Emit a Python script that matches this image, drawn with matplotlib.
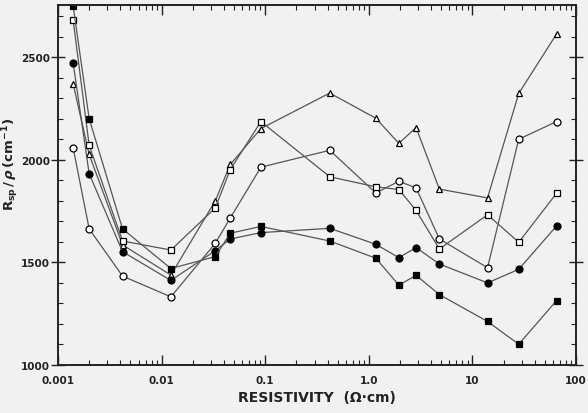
import numpy as np
import matplotlib.pyplot as plt
from matplotlib.ticker import FixedLocator, LogLocator, NullFormatter, MultipleLocator

plt.rcParams['font.family'] = ['DejaVu Sans']

# resistivity (ohm-cm)
rho = [0.0014, 0.002, 0.0042, 0.0123, 0.033, 0.046, 0.091, 0.42, 1.17, 1.95, 2.86, 4.8, 14, 28, 65]

# Rsp/rho (cm^-1) for each sample set
filled_sq = [2750, 2200, 1663, 1470, 1528, 1642, 1675, 1604, 1520, 1389, 1437, 1343, 1212, 1101, 1314]
filled_ci = [2472, 1932, 1552, 1412, 1557, 1614, 1645, 1666, 1588, 1523, 1572, 1492, 1400, 1466, 1678]
open_sq = [2682, 2070, 1604, 1560, 1765, 1952, 2186, 1917, 1868, 1855, 1753, 1565, 1732, 1598, 1837]
open_tri = [2370, 2026, 1585, 1438, 1800, 1977, 2152, 2325, 2202, 2080, 2157, 1857, 1814, 2323, 2613]
open_ci = [2059, 1663, 1433, 1332, 1593, 1716, 1964, 2046, 1838, 1895, 1863, 1614, 1474, 2100, 2186]

bg = '#f1f1f1'
fig = plt.figure(figsize=(5.88, 4.14), dpi=100, facecolor=bg)
ax = fig.add_axes([0.0986, 0.116, 0.881, 0.87], facecolor=bg)

line_kw = dict(color='#555555', lw=0.9, mec='black', mew=0.9)
ax.plot(rho, open_tri, marker='^', ms=4.6, mfc='white', **line_kw)
ax.plot(rho, open_ci, marker='o', ms=5, mfc='white', **line_kw)
ax.plot(rho, open_sq, marker='s', ms=4, mfc='white', **line_kw)
ax.plot(rho, filled_ci, marker='o', ms=5, mfc='black', **line_kw)
ax.plot(rho, filled_sq, marker='s', ms=3.8, mfc='black', **line_kw)

ax.set_xscale('log')
ax.set_xlim(0.001, 100)
ax.set_ylim(1000, 2755)

ax.xaxis.set_major_locator(FixedLocator([0.001, 0.01, 0.1, 1.0, 10, 100]))
ax.set_xticklabels(['0.001', '0.01', '0.1', '1.0', '10', '100'])
ax.xaxis.set_minor_locator(LogLocator(base=10, subs=np.arange(2, 10)))
ax.xaxis.set_minor_formatter(NullFormatter())
ax.set_yticks([1000, 1500, 2000, 2500])
ax.yaxis.set_minor_locator(MultipleLocator(100))

ax.tick_params(which='both', direction='in', top=True, right=True, colors='#222222',
               labelsize=7.5)
ax.tick_params(which='major', length=7, width=1)
ax.tick_params(which='minor', length=3.5, width=0.8)
ax.tick_params(axis='y', which='major', direction='inout', length=10, pad=1)
ax.tick_params(axis='x', pad=7)
for lbl in ax.get_xticklabels() + ax.get_yticklabels():
    lbl.set_fontweight('bold')

for s in ax.spines.values():
    s.set_linewidth(1.4)
    s.set_color('#222222')

ax.set_xlabel('RESISTIVITY  (\u03a9\u00b7cm)', fontsize=10, fontweight='bold',
              color='#222222', labelpad=4)
ax.set_ylabel(r'$\mathbf{R_{sp}\,/\,}\boldsymbol{\rho}\,\mathbf{(cm^{-1})}$', fontsize=9.5,
              color='#222222')
ax.yaxis.set_label_coords(-0.072, 0.56)

fig.savefig('out.png', dpi=100, facecolor=bg)
